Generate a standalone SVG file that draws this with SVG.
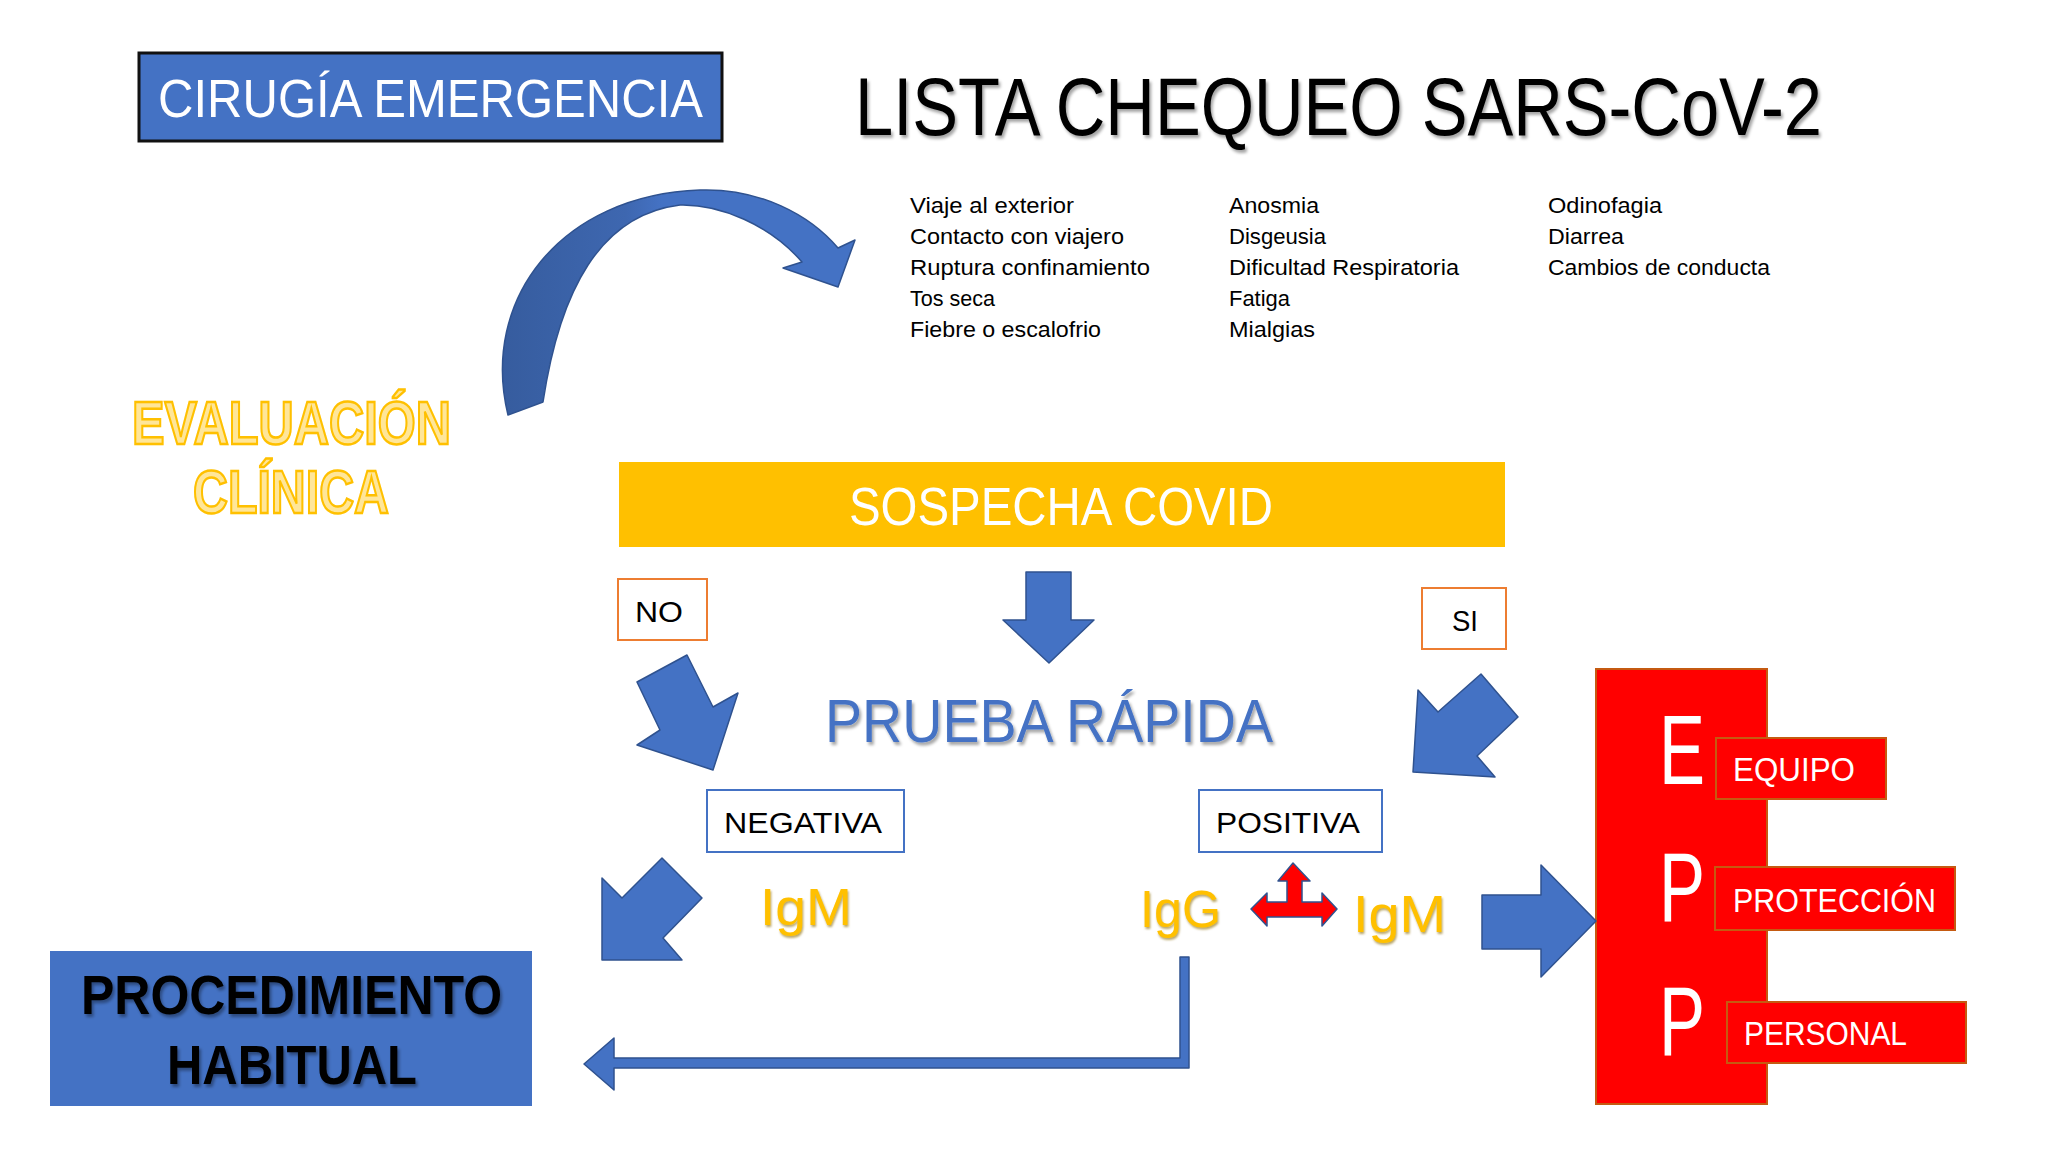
<svg xmlns="http://www.w3.org/2000/svg" width="2048" height="1152" viewBox="0 0 2048 1152">
  <defs>
    <filter id="shadow" x="-10%" y="-30%" width="120%" height="160%">
      <feDropShadow dx="2" dy="3" stdDeviation="1.5" flood-color="#000" flood-opacity="0.35"/>
    </filter>
    <filter id="goldshadow" x="-10%" y="-30%" width="120%" height="160%">
      <feDropShadow dx="1" dy="2" stdDeviation="1" flood-color="#8a6a00" flood-opacity="0.6"/>
    </filter>
    <linearGradient id="curveGrad" x1="500" y1="0" x2="860" y2="0" gradientUnits="userSpaceOnUse">
      <stop offset="0" stop-color="#365C9E"/>
      <stop offset="0.35" stop-color="#3E67B0"/>
      <stop offset="0.45" stop-color="#4472C4"/>
      <stop offset="1" stop-color="#4472C4"/>
    </linearGradient>
  </defs>
  <style>
    text { font-family: "Liberation Sans", Arial, sans-serif; }
    .blk { fill: #4472C4; stroke: #2F528F; stroke-width: 1.5; stroke-linejoin: round; }
    .chk { font-size: 22px; fill: #000; }
    .lbl { font-size: 30px; fill: #000; }
    .ig { font-size: 52px; fill: #FFC000; filter: url(#goldshadow); }
    .epp-letter { font-size: 98px; fill: #fff; }
    .epp-word { font-size: 33px; fill: #fff; }
    .epp-box { fill: #FF0000; stroke: #C55A11; stroke-width: 2; }
  </style>
  <rect width="2048" height="1152" fill="#fff"/>

  <g id="cirugia-emergencia">
    <rect x="139" y="53" width="583" height="88" fill="#4472C4" stroke="#111" stroke-width="3"/>
    <text x="158" y="117" font-size="54" fill="#fff" textLength="545" lengthAdjust="spacingAndGlyphs">CIRUGÍA EMERGENCIA</text>
  </g>

  <g id="titulo">
    <text x="855" y="135" font-size="82" fill="#000" filter="url(#shadow)" textLength="967" lengthAdjust="spacingAndGlyphs">LISTA CHEQUEO SARS-CoV-2</text>
  </g>

  <g id="lista">
    <text class="chk" x="910" y="213" textLength="164" lengthAdjust="spacingAndGlyphs">Viaje al exterior</text>
    <text class="chk" x="910" y="244" textLength="214" lengthAdjust="spacingAndGlyphs">Contacto con viajero</text>
    <text class="chk" x="910" y="275" textLength="240" lengthAdjust="spacingAndGlyphs">Ruptura confinamiento</text>
    <text class="chk" x="910" y="306" textLength="85" lengthAdjust="spacingAndGlyphs">Tos seca</text>
    <text class="chk" x="910" y="337" textLength="191" lengthAdjust="spacingAndGlyphs">Fiebre o escalofrio</text>
    <text class="chk" x="1229" y="213" textLength="90" lengthAdjust="spacingAndGlyphs">Anosmia</text>
    <text class="chk" x="1229" y="244" textLength="97" lengthAdjust="spacingAndGlyphs">Disgeusia</text>
    <text class="chk" x="1229" y="275" textLength="230" lengthAdjust="spacingAndGlyphs">Dificultad Respiratoria</text>
    <text class="chk" x="1229" y="306" textLength="61" lengthAdjust="spacingAndGlyphs">Fatiga</text>
    <text class="chk" x="1229" y="337" textLength="86" lengthAdjust="spacingAndGlyphs">Mialgias</text>
    <text class="chk" x="1548" y="213" textLength="114" lengthAdjust="spacingAndGlyphs">Odinofagia</text>
    <text class="chk" x="1548" y="244" textLength="76" lengthAdjust="spacingAndGlyphs">Diarrea</text>
    <text class="chk" x="1548" y="275" textLength="222" lengthAdjust="spacingAndGlyphs">Cambios de conducta</text>
  </g>

  <g id="evaluacion-clinica">
    <text x="132" y="444" font-size="61" font-weight="bold" fill="#FFE699" stroke="#FFC000" stroke-width="2.5" textLength="319" lengthAdjust="spacingAndGlyphs">EVALUACIÓN</text>
    <text x="193" y="513" font-size="61" font-weight="bold" fill="#FFE699" stroke="#FFC000" stroke-width="2.5" textLength="196" lengthAdjust="spacingAndGlyphs">CLÍNICA</text>
  </g>

  <g id="sospecha-covid">
    <rect x="619" y="462" width="886" height="85" fill="#FFC000"/>
    <text x="849" y="525" font-size="54" fill="#fff" textLength="424" lengthAdjust="spacingAndGlyphs">SOSPECHA COVID</text>
  </g>

  <g id="no">
    <rect x="618" y="579" width="89" height="61" fill="#fff" stroke="#ED7D31" stroke-width="2"/>
    <text class="lbl" x="635" y="622" textLength="48" lengthAdjust="spacingAndGlyphs">NO</text>
  </g>

  <g id="si">
    <rect x="1422" y="588" width="84" height="61" fill="#fff" stroke="#ED7D31" stroke-width="2"/>
    <text class="lbl" x="1452" y="631" textLength="26" lengthAdjust="spacingAndGlyphs">SI</text>
  </g>

  <g id="prueba-rapida">
    <text x="825" y="742" font-size="62" fill="#4472C4" filter="url(#shadow)" textLength="448" lengthAdjust="spacingAndGlyphs">PRUEBA RÁPIDA</text>
  </g>

  <g id="negativa">
    <rect x="707" y="790" width="197" height="62" fill="#fff" stroke="#4472C4" stroke-width="2"/>
    <text class="lbl" x="724" y="833" textLength="158" lengthAdjust="spacingAndGlyphs">NEGATIVA</text>
  </g>

  <g id="positiva">
    <rect x="1199" y="790" width="183" height="62" fill="#fff" stroke="#4472C4" stroke-width="2"/>
    <text class="lbl" x="1216" y="833" textLength="144" lengthAdjust="spacingAndGlyphs">POSITIVA</text>
  </g>

  <g id="igm-negativa">
    <text class="ig" x="760" y="925" textLength="92" lengthAdjust="spacingAndGlyphs">IgM</text>
  </g>
  <g id="igg-positiva">
    <text class="ig" x="1140" y="927" textLength="81" lengthAdjust="spacingAndGlyphs">IgG</text>
  </g>
  <g id="igm-positiva">
    <text class="ig" x="1353" y="932" textLength="93" lengthAdjust="spacingAndGlyphs">IgM</text>
  </g>

  <g id="procedimiento-habitual">
    <rect x="50" y="951" width="482" height="155" fill="#4472C4"/>
    <text x="81" y="1014" font-size="56" font-weight="bold" fill="#000" filter="url(#shadow)" textLength="421" lengthAdjust="spacingAndGlyphs">PROCEDIMIENTO</text>
    <text x="167" y="1084" font-size="56" font-weight="bold" fill="#000" filter="url(#shadow)" textLength="250" lengthAdjust="spacingAndGlyphs">HABITUAL</text>
  </g>

  <g id="epp">
    <rect x="1596" y="669" width="171" height="435" fill="#FF0000" stroke="#C55A11" stroke-width="2"/>
    <text class="epp-letter" x="1659" y="784" textLength="46" lengthAdjust="spacingAndGlyphs">E</text>
    <text class="epp-letter" x="1659" y="921" textLength="46" lengthAdjust="spacingAndGlyphs">P</text>
    <text class="epp-letter" x="1659" y="1055" textLength="46" lengthAdjust="spacingAndGlyphs">P</text>
    <rect class="epp-box" x="1716" y="738" width="170" height="61"/>
    <text class="epp-word" x="1733" y="781" textLength="122" lengthAdjust="spacingAndGlyphs">EQUIPO</text>
    <rect class="epp-box" x="1715" y="867" width="240" height="63"/>
    <text class="epp-word" x="1733" y="912" textLength="203" lengthAdjust="spacingAndGlyphs">PROTECCIÓN</text>
    <rect class="epp-box" x="1727" y="1002" width="239" height="61"/>
    <text class="epp-word" x="1744" y="1045" textLength="163" lengthAdjust="spacingAndGlyphs">PERSONAL</text>
  </g>

  <g id="connectors">
    <!-- curved arrow: evaluacion -> lista -->
    <path d="M 508 415 C 480 300 560 195 700 190 C 760 188 810 215 838 248 L 855 240 L 838 287 L 783 268 L 802 262 C 770 225 720 204 680 205 C 600 215 560 290 543 402 Z" fill="url(#curveGrad)" stroke="#2F528F" stroke-width="1.5" stroke-linejoin="round"/>
    <!-- sospecha -> prueba -->
    <polygon class="blk" points="1026,572 1071,572 1071,620 1094,620 1049,663 1003,620 1026,620"/>
    <!-- NO arrow -->
    <polygon class="blk" points="637,682 687,655 713,707 738,693 713,770 637,745 660,730"/>
    <!-- SI arrow -->
    <polygon class="blk" points="1481,674 1518,717 1477,756 1495,777 1413,772 1418,690 1438,712"/>
    <!-- negativa -> procedimiento -->
    <polygon class="blk" points="662,858 702,898 663,938 682,960 602,960 602,878 622,898"/>
    <!-- IgG -> procedimiento (L-shaped) -->
    <polygon class="blk" points="1180,957 1189,957 1189,1068 614,1068 614,1090 584,1064 614,1038 614,1058 1180,1058"/>
    <!-- red three-way arrow -->
    <polygon points="1293,863 1310,881 1302,881 1302,902 1322,902 1322,893 1337,909 1322,926 1322,917 1267,917 1267,926 1251,909 1267,893 1267,902 1287,902 1287,881 1278,881" fill="#FF0000" stroke="#2F528F" stroke-width="1.5" stroke-linejoin="round"/>
    <!-- IgM -> EPP -->
    <polygon class="blk" points="1482,895 1541,895 1541,865 1596,921 1541,977 1541,949 1482,949"/>
  </g>
</svg>
